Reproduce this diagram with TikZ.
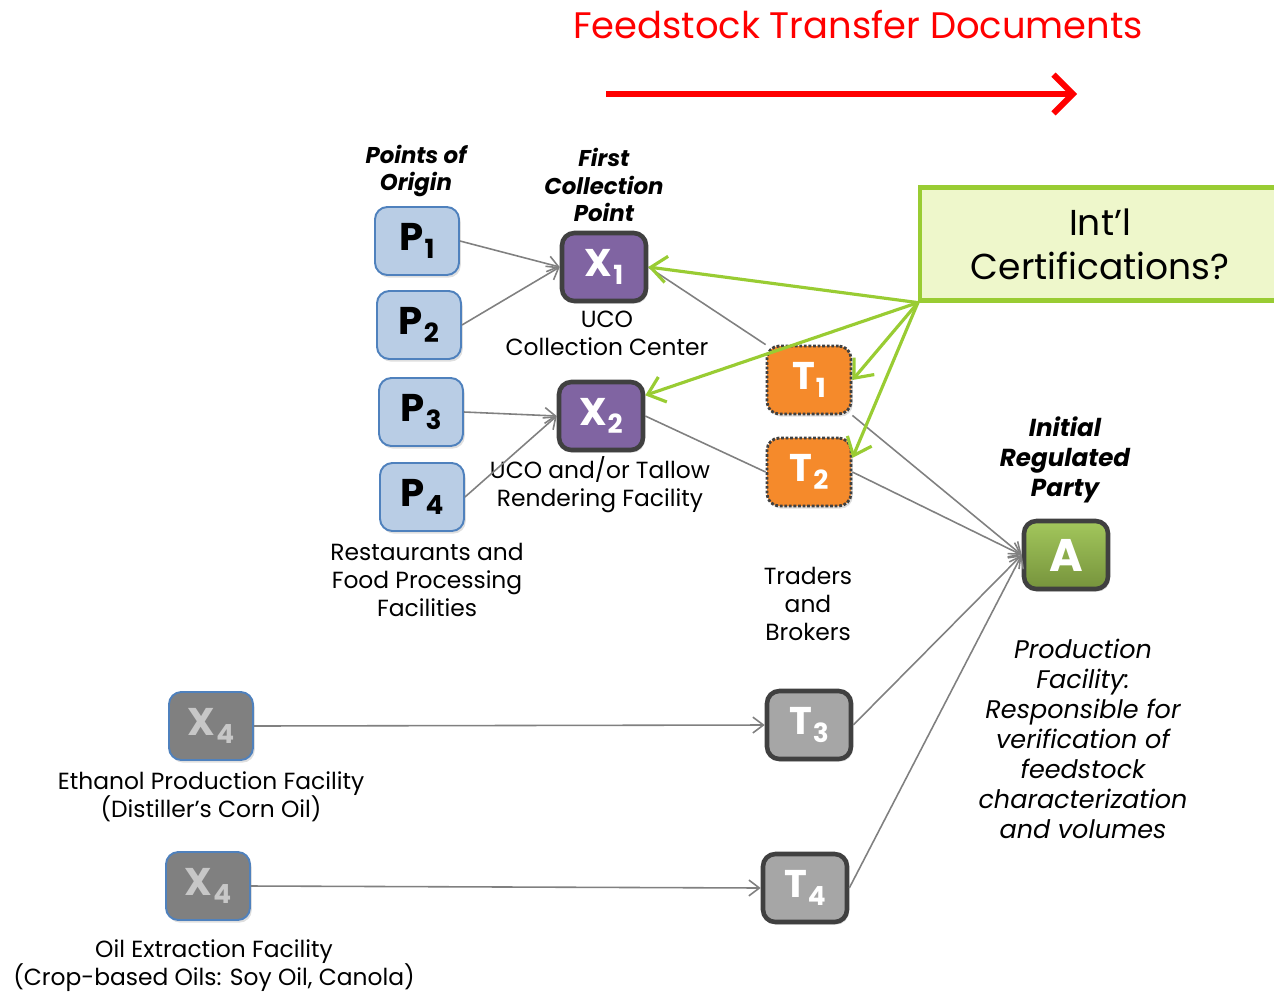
\documentclass[tikz,border=0pt]{standalone}
\usepackage{fontspec}
\setmainfont{Poppins}
\usepackage{tikz}
\usetikzlibrary{arrows.meta,shadows}

\definecolor{pfill}{HTML}{B9CDE5}
\definecolor{pedge}{HTML}{4F81BD}
\definecolor{xpurple}{HTML}{8064A2}
\definecolor{torange}{HTML}{F58A2B}
\definecolor{atop}{HTML}{A3C75C}
\definecolor{abot}{HTML}{76933C}
\definecolor{certfill}{HTML}{EEF7CB}
\definecolor{certline}{HTML}{99CC33}
\definecolor{darkedge}{HTML}{404040}
\definecolor{docred}{HTML}{FF0000}

\newcommand{\boxsub}[2]{#1\kern0.5pt\raisebox{-0.35ex}{\fontsize{15}{15}\selectfont #2}}

\tikzset{
  box/.style={rounded corners=7pt, minimum width=1.68cm, minimum height=1.36cm,
    inner sep=0pt, font=\fontsize{22}{22}\selectfont\bfseries,
    drop shadow={opacity=0.25, shadow xshift=1pt, shadow yshift=-1.5pt}},
  pbox/.style={box, draw=pedge, fill=pfill, line width=1.1pt},
  xbox/.style={box, draw=darkedge, fill=xpurple, text=white, line width=2.6pt},
  tbox/.style={box, draw=darkedge, fill=torange, text=white, line width=1.6pt, densely dotted},
  abox/.style={box, draw=darkedge, top color=atop, bottom color=abot, text=white,
    line width=2.6pt, font=\fontsize{26}{26}\selectfont\bfseries},
  gbox/.style={box, draw=pedge, fill=black!50, text=black!22, line width=1.1pt},
  tgray/.style={box, draw=darkedge, fill=black!35, text=white, line width=2.6pt},
  lbl/.style={align=center, font=\fontsize{13.3}{15.9}\selectfont},
  hdr/.style={align=center, font=\fontsize{13}{15.9}\selectfont\bfseries\itshape},
  flow/.style={draw=black!50, line width=0.9pt, -{Straight Barb[length=6pt,width=9pt]}},
  link/.style={draw=black!50, line width=0.9pt},
  cert/.style={draw=certline, line width=1.8pt, -{Straight Barb[length=9pt,width=15pt]}}
}

\begin{document}
\begin{tikzpicture}[x=0.02cm, y=-0.02cm]
\useasboundingbox (0,0) rectangle (1274,994);

% title and document arrow
\node[text=docred, font=\fontsize{21}{21}\selectfont] (title) at (858,25) {Feedstock Transfer Documents};
\coordinate (docstart) at (606,94);
\coordinate (docend) at (1077,94);
\draw[docred, line width=3.4pt, -{Straight Barb[length=11pt,width=22pt]}] (docstart) -- (docend);

% certification box
\node[draw=certline, fill=certfill, line width=2.4pt, minimum width=7.2cm, minimum height=2.26cm,
  align=center, font=\fontsize{20.5}{25}\selectfont] (certs) at (1100,244) {Int’l\\Certifications?};

% headers
\node[hdr] (originlbl) at (416,171) {Points of\\Origin};
\node[hdr] (firstlbl) at (604,185) {First\\Collection\\Point};
\node[hdr, font=\fontsize{14}{17}\selectfont\bfseries\itshape] (partylbl) at (1065,460) {Initial\\Regulated\\Party};

% boxes
\node[pbox] (p1) at (417,241) {\boxsub{P}{1}};
\node[pbox] (p2) at (419,325) {\boxsub{P}{2}};
\node[pbox] (p3) at (421,412) {\boxsub{P}{3}};
\node[pbox] (p4) at (422,497) {\boxsub{P}{4}};
\node[xbox] (x1) at (604,267) {\boxsub{X}{1}};
\node[xbox] (x2) at (601,416) {\boxsub{X}{2}};
\node[tbox] (t1) at (809,380) {\boxsub{T}{1}};
\node[tbox] (t2) at (809,472) {\boxsub{T}{2}};
\node[abox] (a) at (1066,555) {A};
\node[gbox] (x4a) at (211,726) {\boxsub{X}{4}};
\node[gbox] (x4b) at (208,886) {\boxsub{X}{4}};
\node[tgray] (t3) at (809,725) {\boxsub{T}{3}};
\node[tgray] (t4) at (805,888) {\boxsub{T}{4}};

% labels
\node[lbl] (ucolbl) at (607,333) {UCO\\Collection Center};
\node[lbl] (renderlbl) at (600,485) {UCO and/or Tallow\\Rendering Facility};
\node[lbl] (restlbl) at (427,580) {Restaurants and\\Food Processing\\Facilities};
\node[lbl] (traderlbl) at (808,604) {Traders\\and\\Brokers};
\node[lbl, font=\fontsize{14.5}{17}\selectfont\itshape] (prodlbl) at (1083,739)
  {Production\\Facility:\\Responsible for\\verification of\\feedstock\\characterization\\and volumes};
\node[lbl] (ethlbl) at (211,797) {Ethanol Production Facility\\(Distiller’s Corn Oil)};
\node[lbl] (oillbl) at (214,966) {Oil Extraction Facility\\(Crop-based Oils: Soy Oil, Canola)};

% feedstock flows
\draw[flow] (p1.east) -- (x1.west);
\draw[flow] (p2.east) -- (x1.west);
\draw[flow] (p3.east) -- (x2.west);
\draw[flow] (p4.east) -- (x2.west);
\draw[link] (x1.east) -- (t1.north west);
\draw[link] (x2.east) -- (t2.west);
\draw[flow] (t1.south east) -- (a.west);
\draw[flow] (t2.east) -- (a.west);
\draw[flow] (t3.east) -- (a.west);
\draw[flow] (t4.east) -- (a.west);
\draw[flow] (x4a.east) -- (t3.west);
\draw[flow] (x4b.east) -- (t4.west);

% certification arrows
\draw[cert] (certs.south west) -- (x1.east);
\draw[cert] (certs.south west) -- (x2.25);
\draw[cert] (certs.south west) -- (t1.east);
\draw[cert] (certs.south west) -- (t2.18);
\end{tikzpicture}
\end{document}
